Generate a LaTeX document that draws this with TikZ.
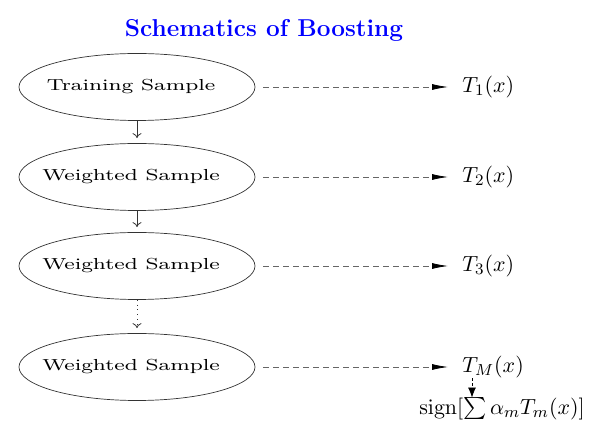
\documentclass[tikz,border=0pt]{standalone}
\usepackage{amsmath,amssymb}
\usetikzlibrary{shapes.geometric,arrows.meta}

\tikzset{
  sample/.style={ellipse,draw=black!80,line width=0.35pt,minimum width=118pt,minimum height=33.5pt,inner sep=0pt,
    font=\fontsize{7.6}{9}\selectfont},
  tree/.style={inner sep=0pt,anchor=west,font=\fontsize{11}{13}\selectfont},
  fit/.style={draw=black!60,line width=0.4pt,dash pattern=on 3pt off 2pt,
    -{Latex[length=8pt,width=3pt,black]},shorten <=4pt,shorten >=7pt},
  next/.style={draw=black!80,line width=0.4pt,-{To[length=2.5pt,width=4.5pt]},shorten >=2.5pt}
}
\newcommand{\samplelabel}[1]{\hspace*{-6pt}\raisebox{-1pt}{\scalebox{1.45}[1.05]{#1}}}

\begin{document}
\begin{tikzpicture}[x=0.5pt,y=-0.5pt]
\useasboundingbox (0,0) rectangle (590,421);

\node[text=blue,font=\fontsize{12.2}{14}\selectfont\bfseries] (title) at (264,30) {Schematics of Boosting};

\node[sample] (S1) at (137,87) {\samplelabel{Training Sample}};
\node[sample] (S2) at (137,177) {\samplelabel{Weighted Sample}};
\node[sample] (S3) at (137,266) {\samplelabel{Weighted Sample}};
\node[sample] (SM) at (137,367) {\samplelabel{Weighted Sample}};

\node[tree] (T1) at (462,87) {\(T_1(x)\)};
\node[tree] (T2) at (462,177) {\(T_2(x)\)};
\node[tree] (T3) at (462,266) {\(T_3(x)\)};
\node[tree] (TM) at (462,367) {\(T_M(x)\)};
\node[inner sep=0pt,font=\fontsize{11}{13}\selectfont] (sign) at (502,409) {\(\operatorname{sign}[\textstyle\sum \alpha_m T_m(x)]\)};

\draw[fit] (S1) -- (T1);
\draw[fit] (S2) -- (T2);
\draw[fit] (S3) -- (T3);
\draw[fit] (SM) -- (TM);

\draw[next] (S1) -- (S2);
\draw[next] (S2) -- (S3);
\draw[next,dotted] (S3) -- (SM);

\draw[line width=0.4pt,dash pattern=on 1.5pt off 1pt,-{Latex[length=5pt,width=4pt]}]
  ([xshift=5pt]TM.south west) -- ([xshift=5pt]TM.south west |- sign.north);
\end{tikzpicture}
\end{document}
